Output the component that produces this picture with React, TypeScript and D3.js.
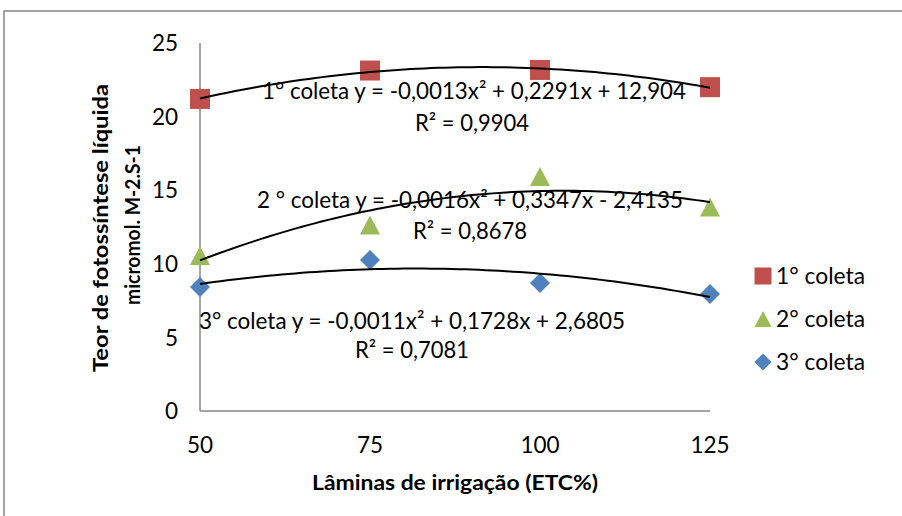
import React from "react";
import * as d3 from "d3";

const laminas = [50, 75, 100, 125];
const coleta1 = [21.2, 23.13, 23.17, 22.0];
const coleta2 = [10.56, 12.64, 15.93, 13.86];
const coleta3 = [8.42, 10.26, 8.7, 7.95];
const seriesNames = ["1° coleta", "2° coleta", "3° coleta"];
const seriesColors = ["#C0504D", "#9BBB59", "#4F81BD"];
const yTicks = [0, 5, 10, 15, 20, 25];
const eqLabels = [
  "1° coleta y = -0,0013x² + 0,2291x + 12,904",
  "2 ° coleta y = -0,0016x² + 0,3347x - 2,4135",
  "3° coleta y = -0,0011x² + 0,1728x + 2,6805",
];
const r2Labels = ["R² = 0,9904", "R² = 0,8678", "R² = 0,7081"];

function quadFit(xs: number[], ys: number[]) {
  const S = (f: (x: number, y: number) => number) =>
    xs.reduce((s, x, i) => s + f(x, ys[i]), 0);
  const n = xs.length;
  const sx = S((x) => x), sx2 = S((x) => x * x), sx3 = S((x) => x ** 3), sx4 = S((x) => x ** 4);
  const sy = S((_, y) => y), sxy = S((x, y) => x * y), sx2y = S((x, y) => x * x * y);
  const M = [
    [sx4, sx3, sx2, sx2y],
    [sx3, sx2, sx, sxy],
    [sx2, sx, n, sy],
  ];
  for (let i = 0; i < 3; i++) {
    for (let k = i + 1; k < 3; k++) {
      const f = M[k][i] / M[i][i];
      for (let j = i; j < 4; j++) M[k][j] -= f * M[i][j];
    }
  }
  const r = [0, 0, 0];
  for (let i = 2; i >= 0; i--) {
    let s = M[i][3];
    for (let j = i + 1; j < 3; j++) s -= M[i][j] * r[j];
    r[i] = s / M[i][i];
  }
  return (x: number) => r[0] * x * x + r[1] * x + r[2];
}

export default function App() {
  const W = 902, H = 516;
  const x = d3.scaleLinear().domain([50, 125]).range([200, 710]);
  const y = d3.scaleLinear().domain([0, 25]).range([411, 43]);
  const data = [coleta1, coleta2, coleta3];
  const font = "Lato, 'Open Sans', sans-serif";
  const line = d3.line<[number, number]>().x((d) => x(d[0])).y((d) => y(d[1]));
  const samples = d3.range(50, 125.01, 1);

  const marker = (i: number, cx: number, cy: number, s: number) => {
    const c = seriesColors[i];
    const h = s / 2;
    if (i === 0) return <rect x={cx - h} y={cy - h} width={s} height={s} fill={c} />;
    if (i === 1)
      return (
        <path
          d={`M${cx},${cy - h * 0.95}L${cx + h},${cy + h * 0.95}L${cx - h},${cy + h * 0.95}Z`}
          fill={c}
        />
      );
    return <path d={`M${cx},${cy - h}L${cx + h},${cy}L${cx},${cy + h}L${cx - h},${cy}Z`} fill={c} />;
  };

  const eqPos = [
    { x: 474, y: 99, len: 424, rx: 472, ry: 131, rlen: 114 },
    { x: 470, y: 208, len: 426, rx: 470, ry: 239, rlen: 114 },
    { x: 412, y: 329, len: 426, rx: 412, ry: 358, rlen: 114 },
  ];

  return (
    <div style={{ position: "absolute", left: 0, top: 0 }}>
      <svg width={W} height={H} style={{ display: "block", background: "#fff" }} fontFamily={font}>
        <rect x={4} y={11} width={W + 10} height={H + 10} fill="none" stroke="#888" strokeWidth={1.5} />
        <line x1={x(50)} x2={x(50)} y1={y(25)} y2={y(0)} stroke="#868686" strokeWidth={1.5} />
        <line x1={x(50)} x2={x(125)} y1={y(0)} y2={y(0)} stroke="#868686" strokeWidth={1.5} />
        {yTicks.map((t) => (
          <text key={t} x={178} y={y(t)} dy="0.36em" textAnchor="end" fontSize={22.5} fill="#000">
            {t}
          </text>
        ))}
        {laminas.map((t) => (
          <text key={t} x={x(t)} y={445} dy="0.36em" textAnchor="middle" fontSize={22.5} fill="#000">
            {t}
          </text>
        ))}
        <text
          x={455}
          y={490}
          textAnchor="middle"
          fontSize={21}
          fontWeight="bold"
          textLength={286}
          lengthAdjust="spacingAndGlyphs"
        >
          Lâminas de irrigação (ETC%)
        </text>
        <g transform="translate(108,228) rotate(-90)">
          <text x={0} y={0} textAnchor="middle" fontSize={21} fontWeight="bold" textLength={288} lengthAdjust="spacingAndGlyphs">
            Teor de fotossíntese líquida
          </text>
          <text x={3} y={32} textAnchor="middle" fontSize={21} fontWeight="bold" textLength={160} lengthAdjust="spacingAndGlyphs">
            micromol. M-2.S-1
          </text>
        </g>
        {data.map((vals, i) => (
          <g key={i}>
            {vals.map((v, j) => (
              <g key={j}>{marker(i, x(laminas[j]), y(v), 20)}</g>
            ))}
          </g>
        ))}
        {data.map((vals, i) => {
          const f = quadFit(laminas, vals);
          const pts = samples.map((s) => [s, f(s)] as [number, number]);
          return <path key={i} d={line(pts) as string} fill="none" stroke="#000" strokeWidth={2} />;
        })}
        {eqLabels.map((l, i) => (
          <g key={i}>
            <text x={eqPos[i].x} y={eqPos[i].y} textAnchor="middle" fontSize={23} textLength={eqPos[i].len} lengthAdjust="spacingAndGlyphs">
              {l}
            </text>
            <text x={eqPos[i].rx} y={eqPos[i].ry} textAnchor="middle" fontSize={23} textLength={eqPos[i].rlen} lengthAdjust="spacingAndGlyphs">
              {r2Labels[i]}
            </text>
          </g>
        ))}
        {seriesNames.map((n, i) => (
          <g key={i} transform={`translate(0,${276 + i * 43})`}>
            {marker(i, 763, 0, 17)}
            <text x={776} y={0} dy="0.36em" fontSize={23} textLength={89} lengthAdjust="spacingAndGlyphs">
              {n}
            </text>
          </g>
        ))}
      </svg>
    </div>
  );
}
